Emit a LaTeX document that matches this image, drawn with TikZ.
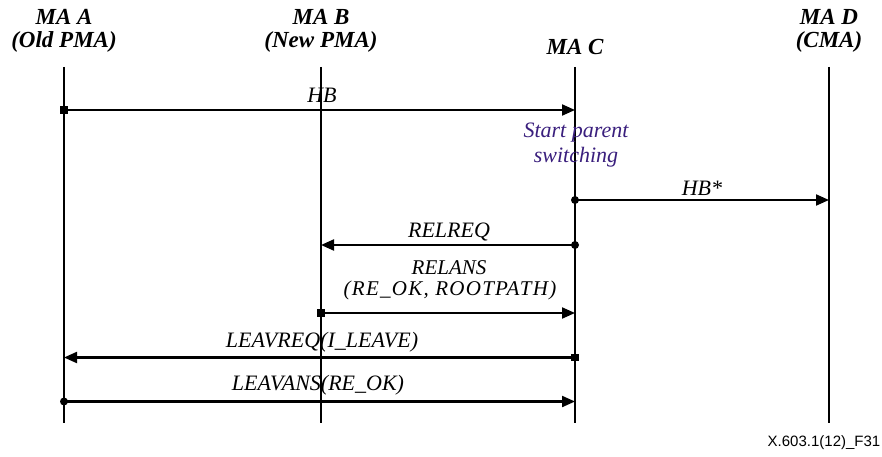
\documentclass[tikz,border=0pt]{standalone}
\usepackage{fontspec}
\setmainfont{Liberation Serif}
\newfontfamily\footfont{Liberation Sans}
\usetikzlibrary{arrows.meta}
\definecolor{purp}{HTML}{3A1F7D}
\begin{document}
\begin{tikzpicture}[x=1pt,y=-1pt,
  life/.style={line width=2.1pt},
  msg/.style={line width=2.1pt,-{Triangle[length=13pt,width=11pt]}},
  hdr/.style={font=\bfseries\itshape\fontsize{23}{24}\selectfont, anchor=base, inner sep=0pt},
  lbl/.style={font=\itshape\fontsize{22}{24}\selectfont, anchor=base, inner sep=0pt},
  slbl/.style={font=\itshape\fontsize{21}{22}\selectfont, anchor=base, inner sep=0pt},
  rdot/.style={circle,fill,inner sep=0pt,minimum size=8pt},
  sdot/.style={rectangle,fill,inner sep=0pt,minimum size=7.5pt}]
\useasboundingbox (0,0) rectangle (882,457);
% headers
\node[hdr] (hA1) at (64,25) {MA A};
\node[hdr] (hA2) at (64,48) {(Old PMA)};
\node[hdr] (hB1) at (321,25) {MA B};
\node[hdr] (hB2) at (321,48) {(New PMA)};
\node[hdr] (hC1) at (575,55) {MA C};
\node[hdr] (hD1) at (829,25) {MA D};
\node[hdr] (hD2) at (829,48) {(CMA)};
% lifelines
\coordinate (At) at (64,67);  \coordinate (Ab) at (64,423);
\coordinate (Bt) at (321,67); \coordinate (Bb) at (321,423);
\coordinate (Ct) at (575,67); \coordinate (Cb) at (575,423);
\coordinate (Dt) at (829,67); \coordinate (Db) at (829,423);
\draw[life] (At) -- (Ab);
\draw[life] (Bt) -- (Bb);
\draw[life] (Ct) -- (Cb);
\draw[life] (Dt) -- (Db);
% HB
\node[sdot] (m1s) at (64,110) {};
\coordinate (m1e) at (575,110);
\draw[msg] (m1s.center) -- (m1e);
\node[lbl] (l1) at (322,103) {HB};
% start parent switching
\node[lbl, text=purp] (sps1) at (576,137.5) {Start parent};
\node[lbl, text=purp] (sps2) at (576,163) {switching};
% HB*
\node[rdot] (m2s) at (575,200) {};
\coordinate (m2e) at (829,200);
\draw[msg] (m2s.center) -- (m2e);
\node[lbl] (l2) at (702,195) {HB*};
% RELREQ
\node[rdot] (m3s) at (575,245) {};
\coordinate (m3e) at (321,245);
\draw[msg] (m3s.center) -- (m3e);
\node[lbl] (l3) at (449,237.5) {RELREQ};
% RELANS
\node[sdot] (m4s) at (321,313) {};
\coordinate (m4e) at (575,313);
\draw[msg] (m4s.center) -- (m4e);
\node[slbl] (l4a) at (449,274) {RELANS};
\node[slbl] (l4b) at (450,295) {\addfontfeatures{LetterSpace=6}(RE\_OK, ROOTPATH)};
% LEAVREQ
\node[sdot] (m5s) at (575,357.5) {};
\coordinate (m5e) at (64,357.5);
\draw[msg] (m5s.center) -- (m5e);
\node[lbl] (l5) at (322,347) {LEAVREQ(I\_LEAVE)};
% LEAVANS
\node[rdot] (m6s) at (64,401.5) {};
\coordinate (m6e) at (575,401.5);
\draw[msg] (m6s.center) -- (m6e);
\node[lbl] (l6) at (318,390) {LEAVANS(RE\_OK)};
% footer
\node[font=\footfont\fontsize{15}{17}\selectfont, inner sep=0pt, anchor=base] (ft) at (824,446.5) {X.603.1(12)\_F31};
\end{tikzpicture}
\end{document}
